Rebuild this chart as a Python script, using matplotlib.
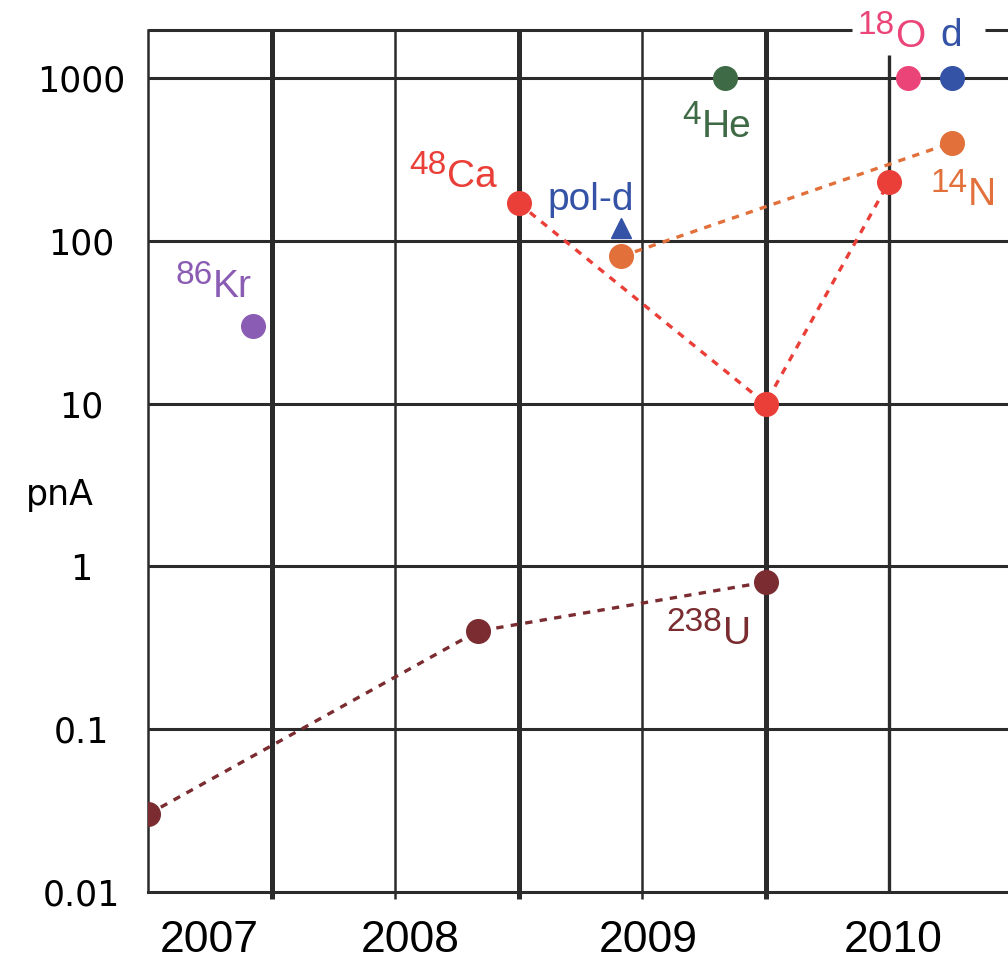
import matplotlib.pyplot as plt

plt.rcParams['font.family'] = ['Liberation Sans', 'DejaVu Sans']

# x is counted in grid columns (one column = half a year), y in pnA
u_x = [0, 2.67, 5.0]
u_y = [0.03, 0.4, 0.8]
ca_x = [3.0, 5.0, 6.0]
ca_y = [170, 10, 230]
n_x = [3.83, 6.51]
n_y = [80, 400]
kr_x, kr_y = [0.85], [30]
he_x, he_y = [4.67], [1000]
o_x, o_y = [6.15], [1000]
d_x, d_y = [6.51], [1000]
pold_x, pold_y = [3.83], [120]

year_pos = [0.5, 2.12, 4.05, 6.03]
year_labels = ['2007', '2008', '2009', '2010']
y_ticks = [0.01, 0.1, 1, 10, 100, 1000]
y_labels = ['0.01', '0.1', '1', '10', '100', '1000']

grid_col = '#2b2b2b'
red = '#ea3f38'
orange = '#e2703a'
brown = '#7a2c30'
purple = '#8a5cb3'
green = '#3e6a45'
pink = '#ea4478'
blue = '#3452a6'

fig = plt.figure(figsize=(10.08, 9.63), dpi=100)
ax = fig.add_axes([148/1008, 71/963, 860/1008, 862/963])
ax.set_yscale('log')
ax.set_xlim(0, 860/123.5)
ax.set_ylim(0.01, 1968)
for s in ax.spines.values():
    s.set_visible(False)

# grid
for yv in [0.1, 1, 10, 100, 1000]:
    ax.axhline(yv, color=grid_col, lw=2.2, zorder=1)
ax.axhline(0.01, color=grid_col, lw=2.2, zorder=1, clip_on=False)
ax.axvline(0, color=grid_col, lw=1.8, zorder=1, clip_on=False)
widths = [3.6, 1.8, 3.6, 1.8, 3.6]
for k, w in zip(range(1, 6), widths):
    ax.vlines(k, 0.009, 1968, color=grid_col, lw=w, zorder=1, clip_on=False)
ax.vlines(6, 0.01, 1380, color=grid_col, lw=2.4, zorder=1)
ax.hlines(1968, 0, 5.70, color=grid_col, lw=2.2, zorder=1, clip_on=False)
ax.hlines(1968, 6.78, 7.2, color=grid_col, lw=2.2, zorder=1, clip_on=False)

# series
ms = 17
dash = (0, (2.2, 2.2))
ax.plot(u_x, u_y, ls=dash, lw=2.4, color=brown, marker='o', ms=ms, zorder=3)
ax.plot(ca_x, ca_y, ls=dash, lw=2.4, color=red, marker='o', ms=ms, zorder=3)
ax.plot(n_x, n_y, ls=dash, lw=2.4, color=orange, marker='o', ms=ms, zorder=3)
ax.plot(kr_x, kr_y, 'o', color=purple, ms=ms, zorder=3)
ax.plot(he_x, he_y, 'o', color=green, ms=ms, zorder=3)
ax.plot(o_x, o_y, 'o', color=pink, ms=ms, zorder=3)
ax.plot(d_x, d_y, 'o', color=blue, ms=ms, zorder=3)
ax.plot(pold_x, pold_y, '^', color=blue, ms=14, zorder=3)


def iso(x, y, mass, sym, col):
    # symbol with its left edge at x, mass number raised to its left
    ax.text(x, y, sym, color=col, fontsize=28, ha='left', va='baseline', clip_on=False)
    if mass:
        ax.annotate(mass, (x, y), xytext=(-0.5, 9.5), textcoords='offset points',
                    color=col, fontsize=24, ha='right', va='baseline', annotation_clip=False)


iso(0.526, 45.3, '86', 'Kr', purple)
iso(2.421, 214, '48', 'Ca', red)
iso(3.231, 155, '', 'pol-d', blue)
iso(4.486, 434, '4', 'He', green)
iso(6.049, 1549, '18', 'O', pink)
iso(6.413, 1580, '', 'd', blue)
iso(6.640, 166, '14', 'N', orange)
iso(4.656, 0.332, '238', 'U', brown)

# ticks
ax.set_yticks(y_ticks)
ax.set_yticklabels(y_labels)
ax.minorticks_off()
ax.tick_params(axis='y', length=0, pad=48)
for t in ax.get_yticklabels():
    t.set_ha('center')
    t.set_fontfamily('DejaVu Sans')
    t.set_fontsize(25)
ax.set_xticks(year_pos)
ax.set_xticklabels(year_labels, fontsize=32)
ax.tick_params(axis='x', length=0, pad=20)

fig.text(60/1008, 1 - 495/963, 'pnA', fontsize=25, family='DejaVu Sans', ha='center', va='center')

fig.savefig('out.png', dpi=100)
